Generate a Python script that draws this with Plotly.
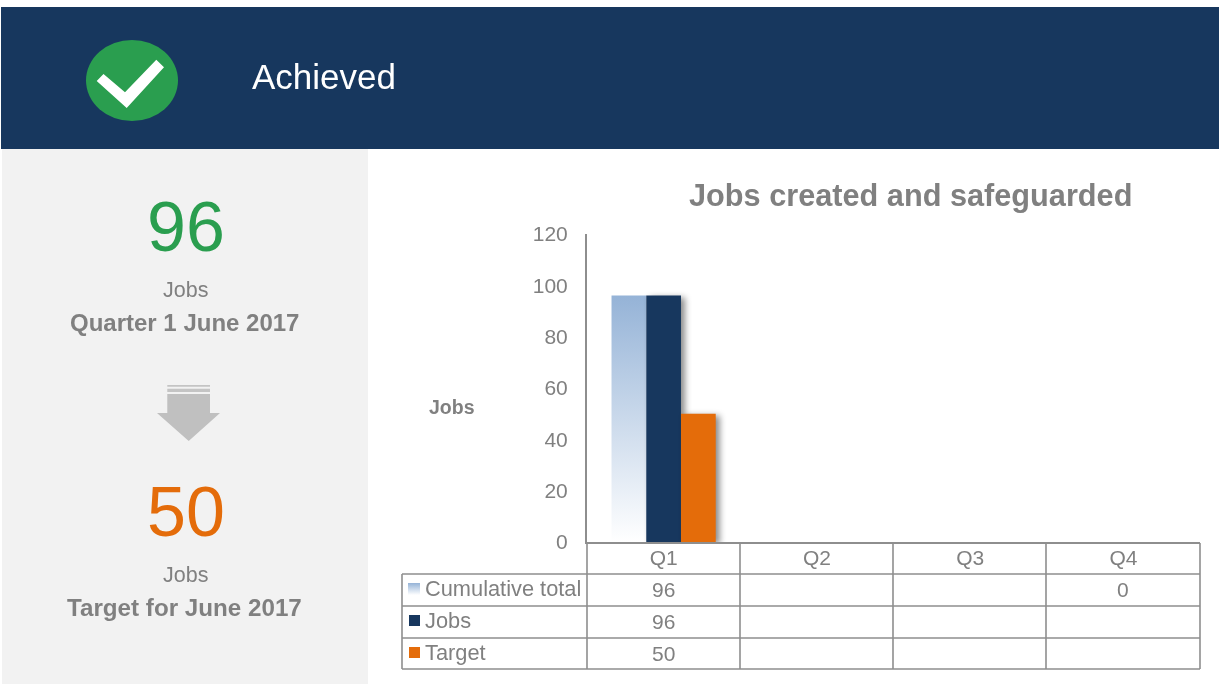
import plotly.graph_objects as go

# ---- data ----
quarters = ["Q1", "Q2", "Q3", "Q4"]
cumulative_total = [96, None, None, 0]
jobs = [96, None, None, None]
target = [50, None, None, None]
y_ticks = [0, 20, 40, 60, 80, 100, 120]
series_names = ["Cumulative total", "Jobs", "Target"]
chart_title = "Jobs created and safeguarded"
status_label = "Achieved"
actual_value = "96"
target_value = "50"

# ---- styles ----
W, H = 1219, 684
NAVY = "#17375E"
ORANGE = "#E46C0A"
GREEN = "#2A9E4F"
GREY = "#808080"
LINE = "#8E8E8E"
FONT = "Liberation Sans, Arial, sans-serif"


def px(x):
    return x / W


def py(y):
    return 1 - y / H


def rect(x0, y0, x1, y1, fill, layer="below"):
    return dict(type="rect", xref="paper", yref="paper", x0=px(x0), x1=px(x1), y0=py(y0), y1=py(y1),
                fillcolor=fill, line_width=0, layer=layer)


def seg(x0, y0, x1, y1):
    return dict(type="line", xref="paper", yref="paper", x0=px(x0), x1=px(x1), y0=py(y0), y1=py(y1),
                line=dict(color=LINE, width=1.6), layer="above")


def poly(points, fill):
    d = "M " + " L ".join(f"{px(a):.5f},{py(b):.5f}" for a, b in points) + " Z"
    return dict(type="path", xref="paper", yref="paper", path=d, fillcolor=fill, line_width=0, layer="above")


def text(x, y, s, size, color=GREY, bold=False, anchor="center"):
    return dict(xref="paper", yref="paper", x=px(x), y=py(y), text=f"<b>{s}</b>" if bold else s,
                showarrow=False, xanchor=anchor, yanchor="middle",
                font=dict(family=FONT, size=size, color=color))


fig = go.Figure()
for name, vals, col in zip(series_names, [cumulative_total, jobs, target], ["#95B3D7", NAVY, ORANGE]):
    fig.add_bar(x=quarters, y=vals, name=name, marker=dict(color=col, line_width=0))

shapes = [
    # index 0: gradient legend swatch (filled by the script below)
    rect(408, 583, 420, 595, "#95B3D7", layer="above"),
    rect(409, 615, 420, 626, NAVY, layer="above"),
    rect(409, 647, 420, 658, ORANGE, layer="above"),
    rect(1, 7, W, 149, NAVY),
    rect(2, 149, 368, H, "#F2F2F2"),
    dict(type="circle", xref="paper", yref="paper", x0=px(86), x1=px(178), y0=py(40), y1=py(121),
         fillcolor=GREEN, line_width=0, layer="above"),
    poly([(96.7, 81), (103.5, 74), (125, 92.3), (156.3, 59.7), (164, 67.3), (126.7, 108)], "#FFFFFF"),
    rect(167.3, 385, 210, 386.7, "#C4C4C4", layer="above"),
    rect(167.3, 388.7, 210, 392, "#C4C4C4", layer="above"),
    poly([(167.3, 394), (210, 394), (210, 413), (220, 413), (188.7, 441), (157, 413), (167.3, 413)], "#C0C0C0"),
]
for y in [574, 606, 638, 669]:
    shapes.append(seg(402, y, 1200, y))
for x in [402]:
    shapes.append(seg(x, 574, x, 669))
for x in [587, 740, 893, 1046, 1200]:
    shapes.append(seg(x, 543, x, 669))

annotations = [
    text(250, 77, status_label, 35, "#FFFFFF", anchor="left"),
    text(910, 195, chart_title, 30.7, "#808080", bold=True),
    text(186, 227, actual_value, 70, GREEN),
    text(185, 290, "Jobs", 21.5),
    text(184.5, 322, "Quarter 1 June 2017", 24, bold=True),
    text(185.5, 512, target_value, 70, ORANGE),
    text(185, 575, "Jobs", 21.5),
    text(184.5, 607, "Target for June 2017", 24.2, bold=True),
    text(452, 407, "Jobs", 19.5, bold=True),
]
row_y = [589, 621, 653]
for name, vals, ry in zip(series_names, [cumulative_total, jobs, target], row_y):
    annotations.append(text(423, ry - 1, name, 21.8, anchor="left"))
    for q, v in zip(quarters, vals):
        if v is not None:
            annotations.append(dict(xref="x", yref="paper", x=q, y=py(ry), text=str(v), showarrow=False,
                                    xanchor="center", yanchor="middle",
                                    font=dict(family=FONT, size=21, color=GREY)))

fig.update_layout(
    width=W, height=H, margin=dict(l=0, r=0, t=0, b=0, pad=0, autoexpand=False),
    paper_bgcolor="#FFFFFF", plot_bgcolor="rgba(0,0,0,0)",
    showlegend=False, barmode="group", bargap=0.32, bargroupgap=0,
    shapes=shapes, annotations=annotations,
    xaxis=dict(domain=[px(587), px(1200)], type="category", categoryorder="array", categoryarray=quarters,
               range=[-0.5, 3.5], showline=True, linecolor=LINE, linewidth=2, showgrid=False, zeroline=False,
               ticks="", ticklabelstandoff=-4,
               tickfont=dict(family=FONT, size=21, color=GREY)),
    yaxis=dict(domain=[py(542), py(234)], range=[0, 120], tickvals=y_ticks, showline=True, linecolor=LINE,
               linewidth=2, showgrid=False, zeroline=False, ticks="outside", ticklen=13,
               tickcolor="rgba(0,0,0,0)", tickfont=dict(family=FONT, size=21, color=GREY)),
)

post = """
document.body.style.margin = '0';
document.documentElement.style.overflow = 'hidden';
var gd = document.getElementById('{plot_id}');
gd.style.opacity = '0.999';
var svg = gd.querySelector('.main-svg');
var NS = 'http://www.w3.org/2000/svg';
var defs = svg.querySelector('defs');
var g = document.createElementNS(NS, 'linearGradient');
g.setAttribute('id', 'fadeBlue');
g.setAttribute('x1', '0'); g.setAttribute('y1', '0'); g.setAttribute('x2', '0'); g.setAttribute('y2', '1');
[['0%', '#95B3D7'], ['100%', '#FFFFFF']].forEach(function (s) {
  var st = document.createElementNS(NS, 'stop');
  st.setAttribute('offset', s[0]); st.setAttribute('stop-color', s[1]); g.appendChild(st);
});
defs.appendChild(g);
var traces = gd.querySelectorAll('.barlayer .trace');
traces.forEach(function (t, i) {
  t.querySelectorAll('path').forEach(function (p) {
    if (i === 0) { p.style.fill = 'url(#fadeBlue)'; }
    else { p.style.filter = 'drop-shadow(4px 2px 3px rgba(0,0,0,0.45))'; }
  });
});
gd.querySelectorAll('.shapelayer path[data-index="0"]').forEach(function (p) {
  p.style.fill = 'url(#fadeBlue)';
});
"""
fig.write_html("out.html", post_script=post, config={"displayModeBar": False})
